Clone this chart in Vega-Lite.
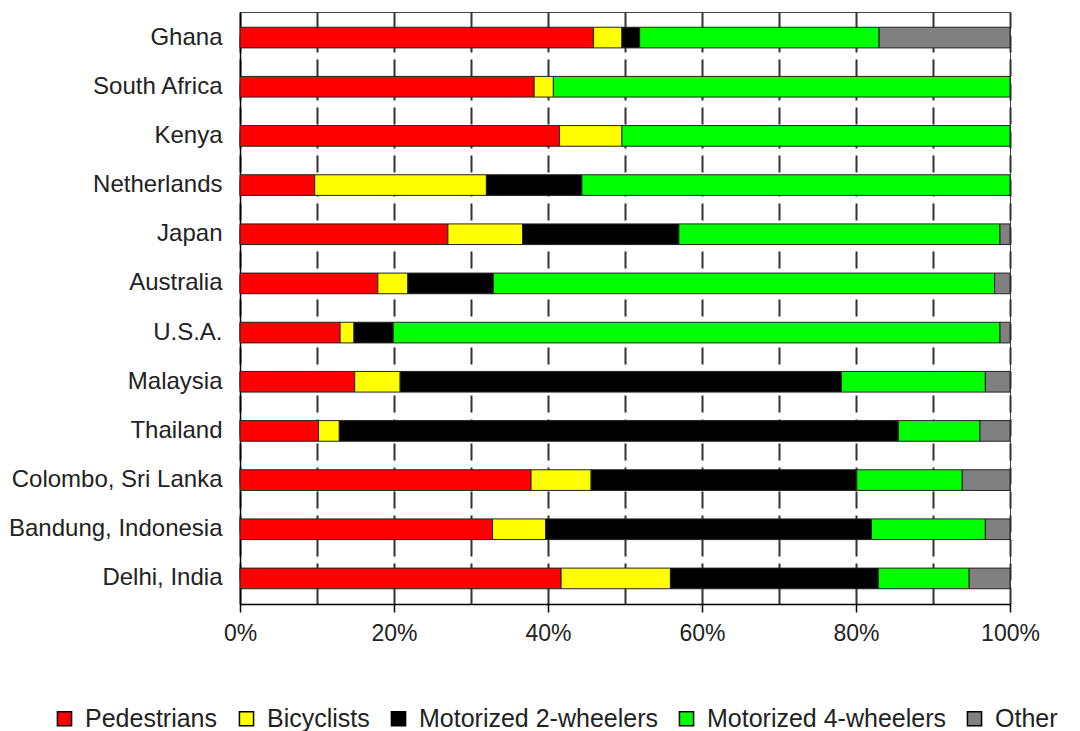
{
  "$schema": "https://vega.github.io/schema/vega-lite/v6.json",
  "width": 770,
  "height": 592,
  "autosize": {"type": "none"},
  "padding": {"left": 240, "top": 12, "right": 70, "bottom": 127},
  "background": "white",
  "config": {
    "font": "Liberation Sans",
    "view": {"stroke": "#444", "strokeWidth": 1},
    "axis": {"labelColor": "#222", "labelFont": "Liberation Sans"}
  },
  "data": {
    "values": [
      {"country": "Ghana", "mode": "Pedestrians", "share": 45.9},
      {"country": "Ghana", "mode": "Bicyclists", "share": 3.7},
      {"country": "Ghana", "mode": "Motorized 2-wheelers", "share": 2.3},
      {"country": "Ghana", "mode": "Motorized 4-wheelers", "share": 31.1},
      {"country": "Ghana", "mode": "Other", "share": 17.0},
      {"country": "South Africa", "mode": "Pedestrians", "share": 38.2},
      {"country": "South Africa", "mode": "Bicyclists", "share": 2.5},
      {"country": "South Africa", "mode": "Motorized 4-wheelers", "share": 59.3},
      {"country": "Kenya", "mode": "Pedestrians", "share": 41.5},
      {"country": "Kenya", "mode": "Bicyclists", "share": 8.1},
      {"country": "Kenya", "mode": "Motorized 4-wheelers", "share": 50.4},
      {"country": "Netherlands", "mode": "Pedestrians", "share": 9.7},
      {"country": "Netherlands", "mode": "Bicyclists", "share": 22.3},
      {"country": "Netherlands", "mode": "Motorized 2-wheelers", "share": 12.4},
      {"country": "Netherlands", "mode": "Motorized 4-wheelers", "share": 55.6},
      {"country": "Japan", "mode": "Pedestrians", "share": 27.0},
      {"country": "Japan", "mode": "Bicyclists", "share": 9.7},
      {"country": "Japan", "mode": "Motorized 2-wheelers", "share": 20.3},
      {"country": "Japan", "mode": "Motorized 4-wheelers", "share": 41.7},
      {"country": "Japan", "mode": "Other", "share": 1.3},
      {"country": "Australia", "mode": "Pedestrians", "share": 17.9},
      {"country": "Australia", "mode": "Bicyclists", "share": 3.9},
      {"country": "Australia", "mode": "Motorized 2-wheelers", "share": 11.1},
      {"country": "Australia", "mode": "Motorized 4-wheelers", "share": 65.1},
      {"country": "Australia", "mode": "Other", "share": 2.0},
      {"country": "U.S.A.", "mode": "Pedestrians", "share": 13.0},
      {"country": "U.S.A.", "mode": "Bicyclists", "share": 1.8},
      {"country": "U.S.A.", "mode": "Motorized 2-wheelers", "share": 5.1},
      {"country": "U.S.A.", "mode": "Motorized 4-wheelers", "share": 78.8},
      {"country": "U.S.A.", "mode": "Other", "share": 1.3},
      {"country": "Malaysia", "mode": "Pedestrians", "share": 14.9},
      {"country": "Malaysia", "mode": "Bicyclists", "share": 5.9},
      {"country": "Malaysia", "mode": "Motorized 2-wheelers", "share": 57.3},
      {"country": "Malaysia", "mode": "Motorized 4-wheelers", "share": 18.7},
      {"country": "Malaysia", "mode": "Other", "share": 3.2},
      {"country": "Thailand", "mode": "Pedestrians", "share": 10.2},
      {"country": "Thailand", "mode": "Bicyclists", "share": 2.7},
      {"country": "Thailand", "mode": "Motorized 2-wheelers", "share": 72.6},
      {"country": "Thailand", "mode": "Motorized 4-wheelers", "share": 10.6},
      {"country": "Thailand", "mode": "Other", "share": 3.9},
      {"country": "Colombo, Sri Lanka", "mode": "Pedestrians", "share": 37.8},
      {"country": "Colombo, Sri Lanka", "mode": "Bicyclists", "share": 7.8},
      {"country": "Colombo, Sri Lanka", "mode": "Motorized 2-wheelers", "share": 34.5},
      {"country": "Colombo, Sri Lanka", "mode": "Motorized 4-wheelers", "share": 13.7},
      {"country": "Colombo, Sri Lanka", "mode": "Other", "share": 6.2},
      {"country": "Bandung, Indonesia", "mode": "Pedestrians", "share": 32.8},
      {"country": "Bandung, Indonesia", "mode": "Bicyclists", "share": 6.9},
      {"country": "Bandung, Indonesia", "mode": "Motorized 2-wheelers", "share": 42.3},
      {"country": "Bandung, Indonesia", "mode": "Motorized 4-wheelers", "share": 14.8},
      {"country": "Bandung, Indonesia", "mode": "Other", "share": 3.2},
      {"country": "Delhi, India", "mode": "Pedestrians", "share": 41.7},
      {"country": "Delhi, India", "mode": "Bicyclists", "share": 14.2},
      {"country": "Delhi, India", "mode": "Motorized 2-wheelers", "share": 27.0},
      {"country": "Delhi, India", "mode": "Motorized 4-wheelers", "share": 11.8},
      {"country": "Delhi, India", "mode": "Other", "share": 5.3}
    ]
  },
  "mark": {"type": "bar", "stroke": "#222", "strokeWidth": 1},
  "encoding": {
    "y": {
      "field": "country",
      "type": "nominal",
      "sort": null,
      "scale": {"paddingInner": 0.58, "paddingOuter": 0.31},
      "axis": {
        "title": null,
        "ticks": false,
        "domainColor": "#000",
        "domainWidth": 1.5,
        "labelFontSize": 24,
        "labelPadding": 18,
        "labelLimit": 400,
        "labelColor": "#222"
      }
    },
    "x": {
      "field": "share",
      "type": "quantitative",
      "stack": "zero",
      "scale": {"domain": [0, 100], "nice": false},
      "axis": {
        "title": null,
        "values": [0, 10, 20, 30, 40, 50, 60, 70, 80, 90, 100],
        "labelExpr": "round(datum.value) % 20 == 0 ? datum.value + '%' : ''",
        "labelOverlap": false,
        "labelFlush": false,
        "labelAlign": "center",
        "labelFontSize": 23,
        "labelPadding": 10,
        "labelColor": "#222",
        "domainColor": "#000",
        "domainWidth": 1.5,
        "tickColor": "#000",
        "tickWidth": 1.5,
        "tickSize": 8,
        "tickOpacity": {"condition": {"test": "round(datum.value) % 20 != 0", "value": 0}, "value": 1},
        "grid": true,
        "gridColor": "#333",
        "gridWidth": 2,
        "gridDash": [17, 7],
        "gridOpacity": 1
      }
    },
    "color": {
      "field": "mode",
      "type": "nominal",
      "sort": ["Pedestrians", "Bicyclists", "Motorized 2-wheelers", "Motorized 4-wheelers", "Other"],
      "scale": {
        "domain": ["Pedestrians", "Bicyclists", "Motorized 2-wheelers", "Motorized 4-wheelers", "Other"],
        "range": ["#FF0000", "#FFFF00", "#000000", "#00FF00", "#808080"]
      },
      "legend": {
        "title": null,
        "orient": "none",
        "direction": "horizontal",
        "columns": 5,
        "legendX": -188,
        "legendY": 694,
        "symbolType": "square",
        "symbolSize": 200,
        "symbolStrokeColor": "#000",
        "symbolStrokeWidth": 1.5,
        "labelFontSize": 25,
        "labelColor": "#222",
        "labelOffset": 8,
        "columnPadding": 16,
        "labelLimit": 400
      }
    },
    "order": {"field": "mode_order"}
  }
}
